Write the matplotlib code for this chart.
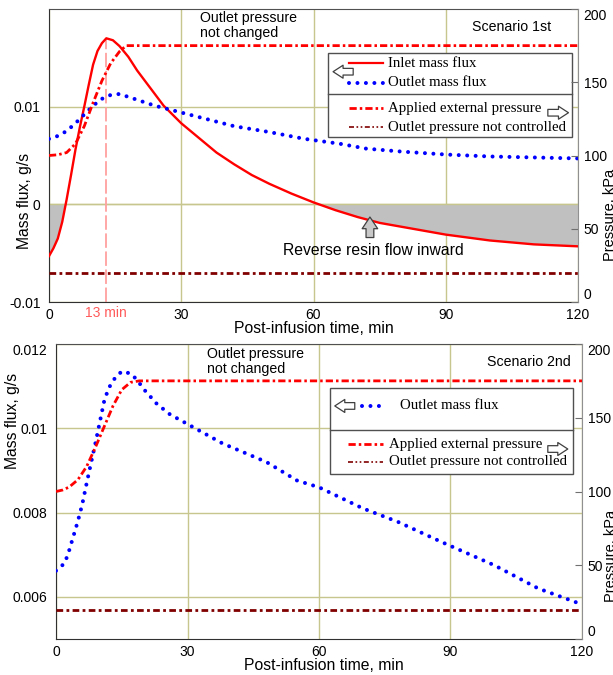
import numpy as np
import matplotlib
matplotlib.use('Agg')
import matplotlib.pyplot as plt
from matplotlib.patches import Rectangle, FancyArrowPatch
from matplotlib.lines import Line2D

plt.rcParams['font.family'] = 'Liberation Sans'

# Scenario 1st: inlet / outlet mass flux (g/s)
t_in1 = [0, 1, 2, 3, 4, 5, 6, 7, 8, 9, 10, 11, 12, 13, 14.5, 16, 18, 20, 23, 26,
         30, 34, 38, 42, 46, 50, 55, 60, 65, 70, 75, 80, 85, 90, 95, 100, 105, 110, 115, 120]
q_in1 = [-0.0053, -0.0045, -0.0035, -0.0018, 0.0005, 0.0030, 0.0056, 0.0079, 0.0100, 0.0122,
         0.0143, 0.0157, 0.0165, 0.0170, 0.0168, 0.0162, 0.0151, 0.0137, 0.0119, 0.0101,
         0.0083, 0.0068, 0.0053, 0.0041, 0.0030, 0.0021, 0.0011, 0.0002, -0.0006, -0.0013,
         -0.0019, -0.0023, -0.0027, -0.0031, -0.0034, -0.0037, -0.0039, -0.0041, -0.0042, -0.0043]

t_out1 = [0, 2, 4, 6, 8, 10, 12, 14, 16, 18, 20, 24, 30, 36, 42, 50, 58, 66, 72, 80, 90, 100, 110, 120]
q_out1 = [0.0067, 0.0070, 0.0075, 0.0083, 0.0092, 0.0101, 0.0108, 0.0112, 0.0113, 0.0110, 0.0107,
          0.0101, 0.0094, 0.0087, 0.0080, 0.0074, 0.0067, 0.0062, 0.0057, 0.0054, 0.0051,
          0.0049, 0.0048, 0.0047]

# Scenario 1st: pressures (kPa)
t_p1 = [0, 2, 4, 6, 8, 10, 12, 14, 16, 17.5, 120]
p_ext1 = [100, 100.5, 102, 108, 120, 136, 151, 163, 171, 175, 175]

# Scenario 2nd: outlet mass flux (g/s)
t_out2 = [0, 2, 3, 4, 5, 6, 7, 8, 9, 10, 11, 12, 13.5, 15, 17, 18.5, 20, 23, 26, 30,
          38, 48, 55, 60, 70, 78, 88, 100, 110, 120]
q_out2 = [0.00662, 0.00680, 0.00710, 0.00745, 0.00780, 0.00820, 0.00870, 0.00918, 0.00965,
          0.01015, 0.01065, 0.01095, 0.01120, 0.01135, 0.01130, 0.01115, 0.01093, 0.01058,
          0.01033, 0.01010, 0.00964, 0.00920, 0.00876, 0.00860, 0.00810, 0.00778, 0.00730,
          0.00675, 0.00620, 0.00582]

# Scenario 2nd: pressures (kPa)
t_p2 = [0, 1.5, 3, 5, 7, 9, 11, 13, 15, 17, 19, 120]
p_ext2 = [100, 101, 103, 108, 117, 130, 144, 158, 169, 174, 175, 175]

# outlet pressure, not controlled (both scenarios)
t_p0 = [0, 120]
p_out = [20, 20]

t_peak = 13  # min, inlet flux maximum

x_ticks = [0, 30, 60, 90, 120]
p_ticks = [0, 50, 100, 150, 200]

RED = '#ff0000'
BLUE = '#0000ff'
DRED = '#800000'
GRID = '#c6c68e'

dot_ls = (0, (0.001, 2.1))
ext_ls = (0, (2.6, 1.1, 0.9, 1.1))
out_ls = (0, (2.4, 1.2, 1.0, 1.2))

fig = plt.figure(figsize=(6.13, 6.75), dpi=100)
ax1 = fig.add_axes([49/613, 1 - 302/675, 529/613, 293/675])
ax2 = fig.add_axes([56/613, 1 - 639/675, 526/613, 295/675])


def style_axes(ax, axr, yticks):
    ax.set_xlim(0, 120)
    ax.set_xticks(x_ticks)
    ax.set_yticks(yticks)
    ax.grid(True, color=GRID, lw=1.0)
    ax.set_axisbelow(True)
    ax.tick_params(axis='both', length=0, labelsize=10)
    ax.tick_params(axis='y', pad=6)
    ax.tick_params(axis='x', pad=4)
    for s in ['left', 'bottom']:
        ax.spines[s].set_color('#303030')
    ax.spines['top'].set_color('#505050')
    ax.spines['right'].set_visible(False)
    axr.set_ylim(0, 200)
    axr.set_yticks(p_ticks)
    axr.tick_params(axis='y', direction='in', length=5, color='#707070', labelsize=10, pad=4)
    for s in ['left', 'bottom', 'top']:
        axr.spines[s].set_visible(False)
    axr.spines['right'].set_color('#909090')
    # end labels of the pressure scale sit inside the axis range
    plabels = axr.get_yticklabels()
    plabels[0].set_va('bottom')
    plabels[-1].set_va('top')
    ax.set_xlabel('Post-infusion time, min', fontsize=11.3, va='center')
    ax.set_ylabel('Mass flux, g/s', fontsize=11.3, va='center')
    axr.set_ylabel('Pressure, kPa', fontsize=10.5, va='center', rotation=90)


def legend_block(ax, box, div, rows, larrow, rarrow):
    tr = ax.transAxes
    ax.add_patch(Rectangle((box[0], box[1]), box[2] - box[0], box[3] - box[1], transform=tr,
                           fc='white', ec='#505050', lw=1.0, zorder=20, clip_on=False))
    ax.add_line(Line2D([box[0], box[2]], [div, div], transform=tr, color='#505050', lw=1.0,
                       zorder=21))
    for (x0, x1, xt, y, label, kw) in rows:
        ax.add_line(Line2D([x0, x1], [y, y], transform=tr, zorder=22, **kw))
        ax.text(xt, y, label, transform=tr, family='Liberation Serif', fontsize=10.7,
                va='center', ha='left', zorder=22)
    for (xa, xb, y) in [larrow, rarrow]:
        ax.add_patch(FancyArrowPatch((xa, y), (xb, y), transform=tr, zorder=23,
                                     arrowstyle='simple,head_length=0.6,head_width=0.78,tail_width=0.4',
                                     mutation_scale=12, fc='white', ec='#404040', lw=0.9,
                                     shrinkA=0, shrinkB=0))


# ---- Scenario 1st ----
axr1 = ax1.twinx()
style_axes(ax1, axr1, [-0.01, 0, 0.01])
ax1.set_ylim(-0.01, 0.02)
ax1.set_yticklabels(['-0.01', '0', '0.01'])

t_in1_a = np.array(t_in1)
q_in1_a = np.array(q_in1)
ax1.fill_between(t_in1_a, 0, q_in1_a, where=q_in1_a <= 0.0003, interpolate=True,
                 color='#c0c0c0', lw=0, zorder=1)
ax1.axhline(0, color=GRID, lw=1.0, zorder=1.5)
ax1.vlines(t_peak, -0.01, max(q_in1), color='#ffa0a0', lw=1.3, linestyles=(0, (8, 2)),
           zorder=2)
ax1.plot(t_in1, q_in1, color=RED, lw=1.7, zorder=3)
ax1.plot(t_out1, q_out1, color=BLUE, lw=2.9, ls=dot_ls, dash_capstyle='round', zorder=3)
axr1.plot(t_p1, p_ext1, color=RED, lw=2.0, ls=ext_ls, dash_capstyle='butt')
axr1.plot(t_p0, p_out, color=DRED, lw=2.0, ls=out_ls, dash_capstyle='butt')

ax1.text(t_peak, -0.0375, '13 min', transform=ax1.get_xaxis_transform(), color='#ff5a5a',
         fontsize=10, ha='center', va='center')
ax1.xaxis.set_label_coords(0.5, -0.09)
ax1.yaxis.set_label_coords(-0.047, 0.345)
axr1.yaxis.set_label_coords(1.06, 0.297)

ax1.text(0.285, 0.993, 'Outlet pressure\nnot changed', transform=ax1.transAxes, fontsize=10.2,
         va='top', ha='left', linespacing=1.05)
ax1.text(0.949, 0.939, 'Scenario 1st', transform=ax1.transAxes, fontsize=10.2,
         va='center', ha='right')
ax1.annotate('', xy=(72.8, -0.0013), xytext=(72.8, -0.0034),
             arrowprops=dict(arrowstyle='simple,head_length=0.6,head_width=0.8,tail_width=0.4',
                             fc='#c8c8c8', ec='#404040', lw=0.9, mutation_scale=14,
                             shrinkA=0, shrinkB=0), zorder=4)
ax1.text(73.5, -0.0047, 'Reverse resin flow inward', fontsize=11.3, ha='center', va='center',
         zorder=4)

legend_block(
    ax1, (0.527, 0.562, 0.989, 0.851), 0.710,
    [(0.568, 0.631, 0.640, 0.815, 'Inlet mass flux', dict(color=RED, lw=1.6)),
     (0.568, 0.631, 0.640, 0.749, 'Outlet mass flux',
      dict(color=BLUE, lw=2.9, ls=dot_ls, dash_capstyle='round')),
     (0.568, 0.631, 0.640, 0.661, 'Applied external pressure',
      dict(color=RED, lw=2.0, ls=ext_ls, dash_capstyle='butt')),
     (0.568, 0.631, 0.640, 0.596, 'Outlet pressure not controlled',
      dict(color=DRED, lw=1.2, ls=(0, (3, 1.5, 1, 1.5, 1, 1.5)), dash_capstyle='butt'))],
    (0.575, 0.537, 0.786), (0.943, 0.982, 0.646))

# ---- Scenario 2nd ----
axr2 = ax2.twinx()
style_axes(ax2, axr2, [0.006, 0.008, 0.01, 0.012])
ax2.set_ylim(0.005, 0.012)
ax2.set_yticklabels(['0.006', '0.008', '0.01', '0.012'])
ax2.get_yticklabels()[-1].set_va('top')

ax2.plot(t_out2, q_out2, color=BLUE, lw=2.9, ls=dot_ls, dash_capstyle='round', zorder=3)
axr2.plot(t_p2, p_ext2, color=RED, lw=2.0, ls=ext_ls, dash_capstyle='butt')
axr2.plot(t_p0, p_out, color=DRED, lw=2.0, ls=out_ls, dash_capstyle='butt')

ax2.xaxis.set_label_coords(0.51, -0.09)
ax2.yaxis.set_label_coords(-0.082, 0.739)
axr2.yaxis.set_label_coords(1.055, 0.28)

ax2.text(0.287, 0.99, 'Outlet pressure\nnot changed', transform=ax2.transAxes, fontsize=10.2,
         va='top', ha='left', linespacing=1.05)
ax2.text(0.979, 0.939, 'Scenario 2nd', transform=ax2.transAxes, fontsize=10.2,
         va='center', ha='right')

legend_block(
    ax2, (0.520, 0.559, 0.982, 0.850), 0.708,
    [(0.581, 0.629, 0.654, 0.790, 'Outlet mass flux',
      dict(color=BLUE, lw=2.9, ls=dot_ls, dash_capstyle='round')),
     (0.555, 0.622, 0.633, 0.661, 'Applied external pressure',
      dict(color=RED, lw=2.0, ls=ext_ls, dash_capstyle='butt')),
     (0.555, 0.622, 0.633, 0.601, 'Outlet pressure not controlled',
      dict(color=DRED, lw=1.2, ls=(0, (3, 1.5, 1, 1.5, 1, 1.5)), dash_capstyle='butt'))],
    (0.568, 0.530, 0.790), (0.935, 0.973, 0.644))

fig.savefig('out.png', dpi=100)
